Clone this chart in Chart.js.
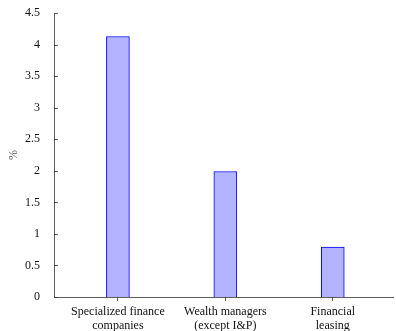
<!DOCTYPE html>
<html>
<head>
<meta charset="utf-8">
<script src="https://cdn.jsdelivr.net/npm/chart.js@4"></script>
<style>
  html, body { margin: 0; padding: 0; background: #fff; }
  #wrap { width: 396px; height: 331px; position: relative; }
</style>
</head>
<body>
<div id="wrap"><canvas id="chart"></canvas></div>
<script>
// Share of assets by institution type (%)
const categories = [
  ["Specialized finance", "companies"],
  ["Wealth managers", "(except I&P)"],
  ["Financial", "leasing"]
];
const shares = [4.13, 1.99, 0.79];
const yTicks = [0, 0.5, 1, 1.5, 2, 2.5, 3, 3.5, 4, 4.5];

const FONT = "'Liberation Serif', 'DejaVu Serif', serif";
const AXIS_COLOR = "#333";

// y-axis tick marks drawn on the inside of the plot, plus the two axis lines
const innerTicks = {
  id: 'innerTicks',
  afterDatasetsDraw(chart) {
    const { ctx, scales: { x, y } } = chart;
    ctx.save();
    ctx.strokeStyle = AXIS_COLOR;
    ctx.lineWidth = 0.8;
    ctx.beginPath();
    yTicks.forEach(v => {
      const py = Math.round(y.getPixelForValue(v)) + 0.5;
      ctx.moveTo(x.left, py);
      ctx.lineTo(x.left + 4, py);
    });
    ctx.moveTo(x.left + 0.5, y.top);
    ctx.lineTo(x.left + 0.5, y.bottom + 0.5);
    ctx.lineTo(x.right, y.bottom + 0.5);
    ctx.stroke();
    ctx.restore();
  }
};

new Chart(document.getElementById('chart'), {
  type: 'bar',
  data: {
    datasets: [{
      data: shares.map((v, i) => ({ x: i, y: v })),
      backgroundColor: 'rgb(179,179,255)',
      borderColor: 'rgb(0,0,255)',
      borderWidth: 1,
      barThickness: 23
    }]
  },
  options: {
    responsive: true,
    maintainAspectRatio: false,
    animation: false,
    layout: { padding: { top: 3, right: 2, left: 0, bottom: 0 } },
    plugins: { legend: { display: false }, tooltip: { enabled: false } },
    scales: {
      x: {
        type: 'linear',
        offset: false,
        min: -0.595,
        max: 2.57,
        afterBuildTicks(scale) { scale.ticks = categories.map((_, i) => ({ value: i })); },
        afterFit(scale) { scale.height = 34; },
        border: { display: false },
        grid: { offset: false, drawOnChartArea: false, tickLength: 4, color: AXIS_COLOR, lineWidth: 0.8 },
        ticks: {
          callback: v => categories[v] || '',
          font: { family: FONT, size: 12, lineHeight: 1.15 },
          color: '#111',
          padding: 4,
          maxRotation: 0,
          autoSkip: false
        }
      },
      y: {
        min: 0,
        max: 4.5,
        afterBuildTicks(scale) { scale.ticks = yTicks.map(v => ({ value: v })); },
        afterFit(scale) { scale.width = 54; },
        border: { display: false },
        grid: { display: false },
        title: {
          display: true,
          text: '%',
          font: { family: FONT, size: 12 },
          color: '#555',
          padding: { top: 7, bottom: 0 }
        },
        ticks: {
          callback: v => String(v),
          font: { family: FONT, size: 12 },
          color: '#111',
          padding: 6
        }
      }
    }
  },
  plugins: [innerTicks]
});
</script>
</body>
</html>
